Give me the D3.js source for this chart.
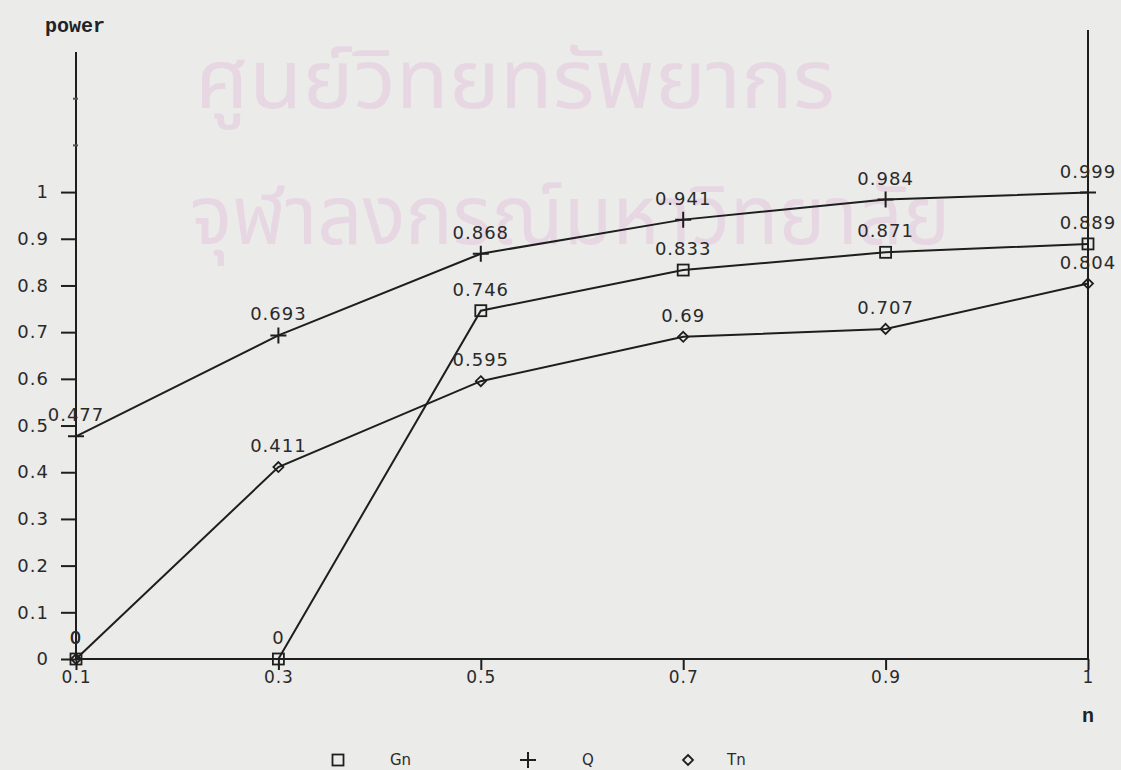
<!DOCTYPE html>
<html>
<head>
<meta charset="utf-8">
<script src="https://cdn.jsdelivr.net/npm/d3@7"></script>
<style>
  html, body { margin: 0; padding: 0; background: #ebebe9; }
  svg { display: block; }
  .plot { font-family: "DejaVu Sans", sans-serif; fill: #2a2a2a; }
  .mono { font-family: "Liberation Mono", "DejaVu Sans Mono", monospace; font-weight: bold; fill: #222; }
</style>
</head>
<body>
<svg id="chart" width="1121" height="770"></svg>
<script>
// sample-size settings along the x axis
const nValues = ["0.1", "0.3", "0.5", "0.7", "0.9", "1"];
// power of each test
const gnPower = [0, 0, 0.746, 0.833, 0.871, 0.889];
const qPower  = [0.477, 0.693, 0.868, 0.941, 0.984, 0.999];
const tnPower = [0, 0.411, 0.595, 0.69, 0.707, 0.804];
const yTickValues = [0, 0.1, 0.2, 0.3, 0.4, 0.5, 0.6, 0.7, 0.8, 0.9, 1];
const yMinorTicks = [1.1, 1.2];
const seriesNames = ["Gn", "Q", "Tn"];
const watermarkLines = ["ศูนย์วิทยทรัพยากร", "จุฬาลงกรณ์มหาวิทยาลัย"];

const series = [
  { name: seriesNames[0], values: gnPower, marker: "square" },
  { name: seriesNames[1], values: qPower,  marker: "plus" },
  { name: seriesNames[2], values: tnPower, marker: "diamond" }
];

const svg = d3.select("#chart");
const W = 1121, H = 770;
const plotLeft = 76, plotRight = 1088, plotTop = 52, plotBottom = 659;
const ink = "#1e1e1e";

svg.append("rect").attr("width", W).attr("height", H).attr("fill", "#ebebe9");

// faint university stamp behind the plot
const wm = svg.append("g")
  .attr("font-family", "'Noto Sans Thai', 'Noto Sans', 'DejaVu Sans', sans-serif")
  .attr("font-size", 82)
  .attr("fill", "#e6d7e3");
wm.append("text").attr("x", 195).attr("y", 108).text(watermarkLines[0])
  .attr("textLength", 640).attr("lengthAdjust", "spacingAndGlyphs");
wm.append("text").attr("x", 190).attr("y", 244).text(watermarkLines[1])
  .attr("textLength", 760).attr("lengthAdjust", "spacingAndGlyphs");

const x = d3.scalePoint().domain(nValues).range([plotLeft, plotRight]);
const y = d3.scaleLinear().domain([0, 1.3]).range([plotBottom, plotTop]);

// left axis
const yAxis = d3.axisLeft(y).tickValues(yTickValues).tickSize(15).tickPadding(12)
  .tickFormat(d => d === 0 ? "0" : d === 1 ? "1" : d3.format(".1f")(d));
const gy = svg.append("g").attr("class", "plot").attr("transform", `translate(${plotLeft},0)`).call(yAxis);
gy.select(".domain").attr("stroke", ink).attr("stroke-width", 2).attr("d", `M0,${plotBottom}V${plotTop}`);
gy.selectAll(".tick line").attr("stroke", ink).attr("stroke-width", 2);
gy.selectAll(".tick text").attr("fill", "#2a2a2a").attr("font-size", 18).attr("letter-spacing", 1)
  .attr("font-family", "'DejaVu Sans', sans-serif");

gy.selectAll(".minor").data(yMinorTicks).enter().append("line")
  .attr("class", "minor").attr("x1", -3).attr("x2", 2)
  .attr("y1", d => y(d)).attr("y2", d => y(d))
  .attr("stroke", "#555").attr("stroke-width", 2);

// bottom axis
const xAxis = d3.axisBottom(x).tickSize(11).tickPadding(1);
const gx = svg.append("g").attr("class", "plot").attr("transform", `translate(0,${plotBottom})`).call(xAxis);
gx.select(".domain").attr("stroke", ink).attr("stroke-width", 2).attr("d", `M${plotLeft},0H${plotRight}`);
gx.selectAll(".tick line").attr("stroke", ink).attr("stroke-width", 2);
gx.selectAll(".tick text").attr("fill", "#2a2a2a").attr("font-size", 17).attr("letter-spacing", 1)
  .attr("font-family", "'DejaVu Sans', sans-serif");

// right frame line
svg.append("line").attr("x1", plotRight).attr("x2", plotRight).attr("y1", 30).attr("y2", plotBottom)
  .attr("stroke", ink).attr("stroke-width", 2);

// axis titles
svg.append("text").attr("class", "mono").attr("x", 45).attr("y", 32)
  .attr("font-size", 20).text("power");
svg.append("text").attr("class", "mono").attr("x", plotRight).attr("y", 722)
  .attr("text-anchor", "middle").attr("font-size", 20).text("n");

const line = d3.line().x((d, i) => x(nValues[i])).y(d => y(d));

function drawMarker(g, kind, cx, cy) {
  if (kind === "square") {
    g.append("rect").attr("x", cx - 5.5).attr("y", cy - 5.5).attr("width", 11).attr("height", 11)
      .attr("fill", "none").attr("stroke", ink).attr("stroke-width", 1.8);
  } else if (kind === "plus") {
    g.append("path").attr("d", `M${cx - 8},${cy}H${cx + 8}M${cx},${cy - 8}V${cy + 8}`)
      .attr("stroke", ink).attr("stroke-width", 2);
  } else {
    g.append("path").attr("d", `M${cx},${cy - 5}L${cx + 5},${cy}L${cx},${cy + 5}L${cx - 5},${cy}Z`)
      .attr("fill", "none").attr("stroke", ink).attr("stroke-width", 1.8);
  }
}

const gs = svg.append("g");
series.forEach(s => {
  gs.append("path").datum(s.values).attr("d", line)
    .attr("fill", "none").attr("stroke", ink).attr("stroke-width", 2);
  s.values.forEach((v, i) => {
    const cx = x(nValues[i]), cy = y(v);
    drawMarker(gs, s.marker, cx, cy);
    gs.append("text").attr("class", "plot")
      .attr("x", cx).attr("y", cy - 15)
      .attr("text-anchor", "middle").attr("font-size", 18).attr("letter-spacing", 1)
      .text(String(v));
  });
});

// legend along the bottom edge
const legendX = [338, 528, 688];
const legendTextX = [390, 582, 727];
const lg = svg.append("g");
series.forEach((s, i) => {
  drawMarker(lg, s.marker, legendX[i], 760);
  lg.append("text").attr("class", "plot").attr("x", legendTextX[i]).attr("y", 765)
    .attr("font-size", 15).text(s.name);
});
</script>
</body>
</html>
